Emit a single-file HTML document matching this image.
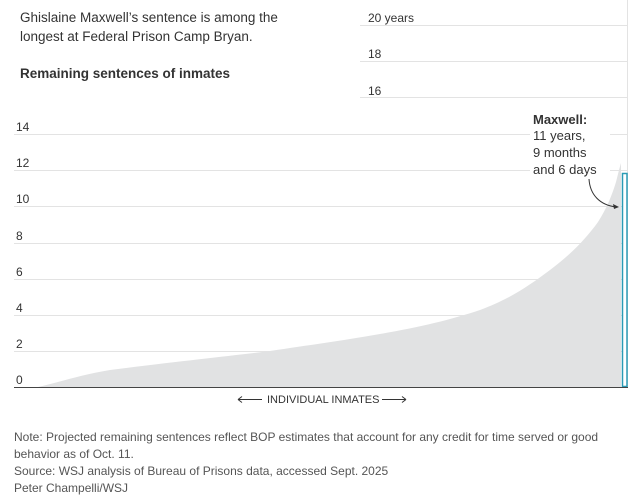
<!DOCTYPE html>
<html><head><meta charset="utf-8"><style>
body{margin:0;background:#fff;width:638px;height:503px;overflow:hidden;font-family:"Liberation Sans",sans-serif;color:#333}
.t{position:absolute;font-size:13.5px;line-height:19px}
</style></head><body>
<svg width="638" height="503" style="position:absolute;left:0;top:0" font-family="Liberation Sans, sans-serif">
<g stroke="#e3e3e3" stroke-width="1">
<line x1="360" x2="628" y1="25.5" y2="25.5"/>
<line x1="360" x2="628" y1="61.5" y2="61.5"/>
<line x1="360" x2="628" y1="97.5" y2="97.5"/>
<line x1="14" x2="628" y1="134.5" y2="134.5"/>
<line x1="14" x2="628" y1="170.5" y2="170.5"/>
<line x1="14" x2="628" y1="206.5" y2="206.5"/>
<line x1="14" x2="628" y1="243.5" y2="243.5"/>
<line x1="14" x2="628" y1="279.5" y2="279.5"/>
<line x1="14" x2="628" y1="315.5" y2="315.5"/>
<line x1="14" x2="628" y1="351.5" y2="351.5"/>
<line x1="627.5" x2="627.5" y1="0" y2="387"/>
</g>
<path d="M38,387 C60,382 80,375 110,370 C180,361 230,356 270,351 C310,345 340,341 380,334 C420,327 450,320 480,310 C510,299 530,285 550,270 C570,255 585,240 598,222 C607,208 612,195 616,182 L619,170 L621,163 L621,387 Z" fill="#e1e2e3"/>
<rect x="622.5" y="173.5" width="4.5" height="213" fill="#fff" stroke="#2a9bb5" stroke-width="1.5"/>
<line x1="14" x2="628" y1="387.5" y2="387.5" stroke="#444" stroke-width="1"/>
<g font-size="12" fill="#333">
<text x="368" y="22">20 years</text>
<text x="368" y="58">18</text>
<text x="368" y="95">16</text>
<text x="16" y="131">14</text>
<text x="16" y="167">12</text>
<text x="16" y="203">10</text>
<text x="16" y="240">8</text>
<text x="16" y="276">6</text>
<text x="16" y="312">4</text>
<text x="16" y="348">2</text>
<text x="16" y="384">0</text>
</g>
<rect x="530" y="110" width="80" height="66" fill="#fff"/>
<g font-size="13" fill="#333">
<text x="533" y="124" font-weight="bold">Maxwell:</text>
<text x="533" y="140">11 years,</text>
<text x="533" y="157">9 months</text>
<text x="533" y="174">and 6 days</text>
</g>
<path d="M589,179 C590,195 600,205 616,207" fill="none" stroke="#333" stroke-width="1"/>
<path d="M619,207 L613,204 L614,209 Z" fill="#333"/>
<text x="267" y="403" font-size="11" fill="#333">INDIVIDUAL INMATES</text>
<path d="M238,399.5 H262 M238,399.5 l4,-3 M238,399.5 l4,3 M382,399.5 H406 M406,399.5 l-4,-3 M406,399.5 l-4,3" stroke="#333" fill="none"/>
</svg>
<div class="t" style="left:20px;top:8px;width:305px">Ghislaine Maxwell’s sentence is among the longest at Federal Prison Camp Bryan.</div>
<div class="t" style="left:20px;top:64px;font-weight:bold">Remaining sentences of inmates</div>
<div style="position:absolute;left:14px;top:429px;font-size:12px;line-height:17px;color:#555;width:620px">Note: Projected remaining sentences reflect BOP estimates that account for any credit for time served or good behavior as of Oct. 11.<br>Source: WSJ analysis of Bureau of Prisons data, accessed Sept. 2025<br>Peter Champelli/WSJ</div>
</body></html>
